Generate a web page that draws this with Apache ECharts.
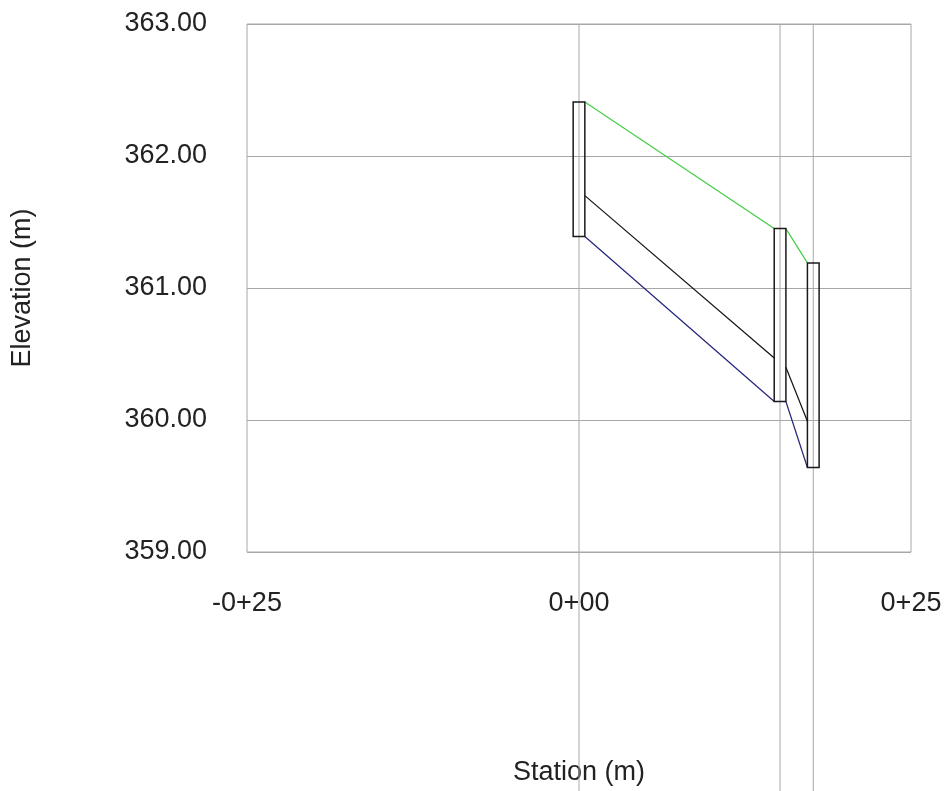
<!DOCTYPE html>
<html>
<head>
<meta charset="utf-8">
<script src="https://cdn.jsdelivr.net/npm/echarts@6/dist/echarts.min.js"></script>
<style>
  html, body { margin: 0; padding: 0; background: #fff; }
  #chart { width: 946px; height: 791px; }
</style>
</head>
<body>
<div id="chart"></div>
<script>
// structure stations (m) and elevations (m)
const stations = [0, 15.14, 17.64]
const rimElev = [362.41, 361.45, 361.19]
const invertElev = [361.39, 360.14, 359.64]
const hglOut = [361.70, 360.40, null]
const hglIn = [null, 360.47, 359.99]

const xTicks = [-25, 0, 25]
const yTicks = [359, 360, 361, 362, 363]

const halfWidth = 0.44
const font = '"Liberation Sans", Arial, sans-serif'

const fmtStation = (v) => {
  const a = Math.abs(v)
  const hund = Math.floor(a / 100)
  const rest = String(Math.round(a % 100)).padStart(2, '0')
  return (v < 0 ? '-' : '') + hund + '+' + rest
}

// link segments between neighbouring structures
const links = (outVals, inVals) => {
  const segs = []
  for (let i = 0; i < stations.length - 1; i++) {
    segs.push({
      coords: [
        [stations[i] + halfWidth, outVals[i]],
        [stations[i + 1] - halfWidth, inVals[i + 1]]
      ]
    })
  }
  return segs
}

const chart = echarts.init(document.getElementById('chart'))

chart.setOption({
  animation: false,
  textStyle: { fontFamily: font },
  grid: {
    left: 247,
    right: 35,
    top: 24,
    bottom: 237,
    show: true,
    borderColor: '#a8a8a8',
    borderWidth: 1
  },
  xAxis: {
    type: 'value',
    min: xTicks[0],
    max: xTicks[xTicks.length - 1],
    interval: 25,
    name: 'Station (m)',
    nameLocation: 'middle',
    nameGap: 207,
    nameTextStyle: { fontSize: 27, color: '#222', fontFamily: font },
    axisLine: { show: false },
    axisTick: { show: false },
    splitLine: { show: false },
    axisLabel: {
      margin: 38,
      fontSize: 27,
      color: '#222',
      fontFamily: font,
      formatter: fmtStation
    }
  },
  yAxis: {
    type: 'value',
    min: yTicks[0],
    max: yTicks[yTicks.length - 1],
    interval: 1,
    name: 'Elevation (m)',
    nameLocation: 'middle',
    nameGap: 211,
    nameTextStyle: { fontSize: 27, color: '#222', fontFamily: font },
    axisLine: { show: false },
    axisTick: { show: false },
    splitLine: { show: true, lineStyle: { color: '#a8a8a8', width: 1 } },
    axisLabel: {
      margin: 40,
      fontSize: 27,
      color: '#222',
      fontFamily: font,
      formatter: (v) => v.toFixed(2)
    }
  },
  series: [
    {
      // station lines, running from the top of the plot to the bottom of the page
      type: 'custom',
      clip: false,
      silent: true,
      data: stations.map((s) => [s]),
      renderItem: (params, api) => {
        const top = api.coord([api.value(0), yTicks[yTicks.length - 1]])
        return {
          type: 'line',
          shape: { x1: top[0], y1: top[1], x2: top[0], y2: api.getHeight() },
          style: { stroke: '#a8a8a8', lineWidth: 1 }
        }
      },
      z: 1
    },
    {
      type: 'lines',
      coordinateSystem: 'cartesian2d',
      silent: true,
      lineStyle: { color: '#44cc44', width: 1.2, opacity: 1 },
      data: links(rimElev, rimElev),
      z: 3
    },
    {
      type: 'lines',
      coordinateSystem: 'cartesian2d',
      silent: true,
      lineStyle: { color: '#111', width: 1.2, opacity: 1 },
      data: links(hglOut, hglIn),
      z: 3
    },
    {
      type: 'lines',
      coordinateSystem: 'cartesian2d',
      silent: true,
      lineStyle: { color: '#23237a', width: 1.2, opacity: 1 },
      data: links(invertElev, invertElev),
      z: 3
    },
    {
      // structure boxes
      type: 'custom',
      silent: true,
      data: stations.map((s, i) => [s, rimElev[i], invertElev[i]]),
      renderItem: (params, api) => {
        const tl = api.coord([api.value(0) - halfWidth, api.value(1)])
        const br = api.coord([api.value(0) + halfWidth, api.value(2)])
        return {
          type: 'rect',
          shape: { x: tl[0], y: tl[1], width: br[0] - tl[0], height: br[1] - tl[1] },
          style: { fill: 'none', stroke: '#1a1a1a', lineWidth: 1.5 }
        }
      },
      z: 4
    }
  ]
})
</script>
</body>
</html>
